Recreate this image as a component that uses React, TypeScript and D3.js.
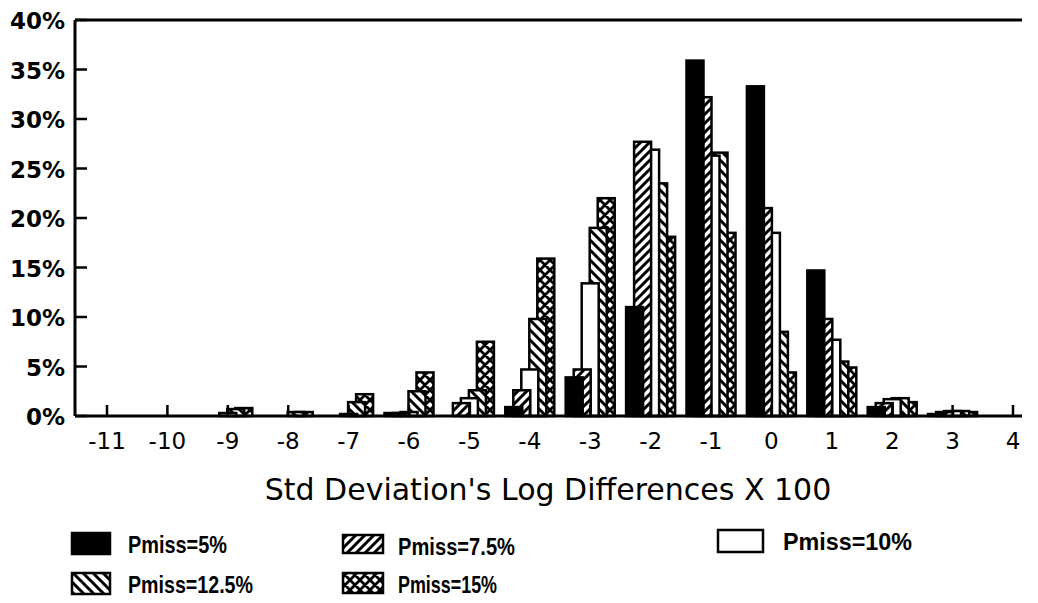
import React from "react";
import * as d3 from "d3";

const categories = [-11, -10, -9, -8, -7, -6, -5, -4, -3, -2, -1, 0, 1, 2, 3, 4];
const pmiss5 = [0, 0, 0, 0, 0, 0.3, 0, 0.9, 3.9, 11.0, 35.9, 33.3, 14.7, 0.9, 0.2, 0];
const pmiss75 = [0, 0, 0, 0, 0, 0.3, 1.3, 2.6, 4.7, 27.7, 32.2, 21.0, 9.8, 1.3, 0.4, 0];
const pmiss10 = [0, 0, 0.3, 0, 0.2, 0.4, 1.8, 4.7, 13.4, 26.9, 26.3, 18.5, 7.7, 1.7, 0.5, 0];
const pmiss125 = [0, 0, 0.7, 0.4, 1.4, 2.5, 2.6, 9.8, 19.0, 23.5, 26.6, 8.5, 5.5, 1.8, 0.5, 0];
const pmiss15 = [0, 0, 0.8, 0.4, 2.2, 4.4, 7.5, 15.9, 22.0, 18.1, 18.5, 4.4, 4.9, 1.4, 0.4, 0];
const seriesNames = ["Pmiss=5%", "Pmiss=7.5%", "Pmiss=10%", "Pmiss=12.5%", "Pmiss=15%"];
const yTicks = [0, 5, 10, 15, 20, 25, 30, 35, 40];
const xTitle = "Std Deviation's Log Differences X 100";

const seriesValues = [pmiss5, pmiss75, pmiss10, pmiss125, pmiss15];
const fills = ["#000", "url(#hatchFwd)", "#fff", "url(#hatchBack)", "url(#cross)"];

export default function App() {
  const W = 1038, H = 603;
  const left = 75, right = 1022, top = 20, bottom = 416;
  const x = d3.scaleLinear().domain([-11, 4]).range([107, 1013]);
  const y = d3.scaleLinear().domain([0, 40]).range([bottom, top]);
  const barW = 17;
  const off = d3.scaleLinear().domain([0, 4]).range([-24.5, 7.5]);

  const bars: JSX.Element[] = [];
  for (let s = seriesValues.length - 1; s >= 0; s--) {
    seriesValues[s].forEach((v, i) => {
      if (v <= 0) return;
      const bx = x(categories[i]) + off(s);
      bars.push(
        <rect key={`b${s}-${i}`} x={bx} y={y(v)} width={barW} height={bottom - y(v)}
          fill={fills[s]} stroke="#000" strokeWidth={2.5} />
      );
    });
  }

  const legend = [
    { sx: 72, sy: 533, tx: 128, tw: 99 },
    { sx: 343, sy: 535, tx: 398, tw: 117 },
    { sx: 718, sy: 530, tx: 783, tw: 129 },
    { sx: 72, sy: 573, tx: 128, tw: 125 },
    { sx: 343, sy: 573, tx: 398, tw: 99 },
  ];
  const sw = [ [38, 21], [40, 18], [45, 22], [38, 21], [40, 20] ];

  return (
    <svg width={W} height={H} style={{ position: "absolute", left: 0, top: 0, background: "#fff" }}>
      <defs>
        <pattern id="hatchFwd" patternUnits="userSpaceOnUse" width={9} height={9}>
          <rect width={9} height={9} fill="#fff" />
          <path d="M0,9 L9,0 M-3,3 L3,-3 M6,12 L12,6" stroke="#000" strokeWidth={3} />
        </pattern>
        <pattern id="hatchBack" patternUnits="userSpaceOnUse" width={10} height={10}>
          <rect width={10} height={10} fill="#fff" />
          <path d="M0,0 L10,10 M-3,7 L3,13 M7,-3 L13,3" stroke="#000" strokeWidth={3} />
        </pattern>
        <pattern id="cross" patternUnits="userSpaceOnUse" width={10} height={10}>
          <rect width={10} height={10} fill="#fff" />
          <path d="M0,0 L10,10 M-3,7 L3,13 M7,-3 L13,3 M0,10 L10,0 M-3,3 L3,-3 M7,13 L13,7" stroke="#000" strokeWidth={2.8} />
        </pattern>
      </defs>

      {bars}

      <line x1={left} y1={top} x2={right} y2={top} stroke="#000" strokeWidth={3} />
      <line x1={left} y1={top} x2={left} y2={bottom} stroke="#000" strokeWidth={3} />
      <line x1={left} y1={bottom} x2={right} y2={bottom} stroke="#000" strokeWidth={3} />

      {yTicks.map((t) => (
        <g key={`y${t}`}>
          <line x1={left} x2={left + 12} y1={y(t)} y2={y(t)} stroke="#000" strokeWidth={2.5} />
          <text x={65} y={y(t) + 9} textAnchor="end" fontFamily="DejaVu Sans" fontWeight="bold"
            fontSize={23}>{`${t}%`}</text>
        </g>
      ))}

      {categories.map((c) => (
        <g key={`x${c}`}>
          <line x1={x(c)} x2={x(c)} y1={bottom} y2={bottom - 11} stroke="#000" strokeWidth={2.5} />
          <text x={x(c)} y={449} textAnchor="middle" fontFamily="DejaVu Sans" fontSize={23}>
            {`${c}`}
          </text>
        </g>
      ))}

      <text x={548} y={500} textAnchor="middle" fontFamily="DejaVu Sans" fontSize={30}>{xTitle}</text>

      {seriesNames.map((n, i) => (
        <g key={n}>
          <rect x={legend[i].sx} y={legend[i].sy} width={sw[i][0]} height={sw[i][1]}
            fill={fills[i]} stroke="#000" strokeWidth={2.5} />
          <text x={legend[i].tx} y={legend[i].sy + 20} fontFamily="Liberation Sans" fontWeight="bold"
            fontSize={24} textLength={legend[i].tw} lengthAdjust="spacingAndGlyphs">{n}</text>
        </g>
      ))}
    </svg>
  );
}
